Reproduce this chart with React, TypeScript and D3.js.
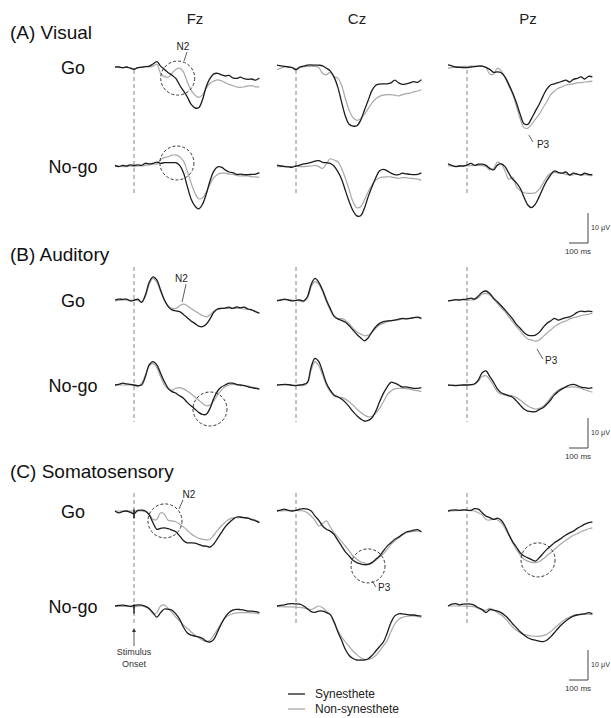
import React from "react";
import * as d3 from "d3";

// time grid of the ERP epochs (ms)
const times = d3.range(-100, 661, 20);
const electrodes = ["Fz", "Cz", "Pz"];
const conditions = ["Go", "No-go"];
const sectionTitles = ["(A) Visual", "(B) Auditory", "(C) Somatosensory"];
const groups = ["Synesthete", "Non-synesthete"];

// amplitudes in µV (positive plotted downward), one value per 20 ms
// (A) Visual
const visFzGoSyn = [0,0,0.2,0,0.4,0.8,0.2,0.1,-0.1,-0.3,-1.0,-1.8,-0.3,0.8,1.9,2.7,3.8,6,7.9,9.9,12.4,13.6,13.6,11,6.6,3.8,2.3,2.1,2.6,3,2.8,3.6,3.8,3.4,3.9,4.1,4,4.4,3.7];
const visFzGoNon = [0,0,0.3,0,0.3,0.5,0.3,0,-0.2,0,-0.3,-0.9,2.1,3.2,3.4,2.1,0.8,0.4,1.6,4.9,7.7,9.3,10.1,9.3,7.1,5.4,4.7,4.3,4.6,5.2,5.8,6.2,6.6,6.8,6.6,6.3,6.2,6.6,6.6];
const visFzNogoSyn = [-0.2,0.2,-0.2,0,-0.4,-0.2,-0.4,-0.2,-0.9,-0.7,-0.9,-1.3,-0.9,-1.1,-1.1,-1.1,-1.1,-0.2,2.2,6.7,10.9,13.3,14.3,12.8,9.4,5,1.7,0.3,0.4,1.3,2,2.2,2.8,2.7,2.9,2.9,2.8,2.7,2.2];
const visFzNogoNon = [0.2,0,0.2,0.2,0,0.2,0,0,-0.2,-0.4,-0.6,-0.7,-2.2,-2.8,-3.1,-3.6,-3.6,-3.1,-1.7,1.7,5.6,8.9,10.9,10.7,8.7,6.1,3.9,2.8,2.4,2.4,2.7,2.8,3.1,3.3,3.3,3.3,3.6,3.6,3.8];
const visCzGoSyn = [-0.6,-0.4,-0.2,0,0.2,0.9,0,-0.3,-0.6,-0.7,-0.6,-0.6,-0.4,0.4,1.3,3.3,6.7,11.7,16.4,19.1,19.7,19.6,17.8,14.4,11.1,7.8,6.1,5.7,5.6,5.6,5.3,4.4,5.3,5.8,5.6,5.3,4.9,5.1,4.2];
const visCzGoNon = [0.9,0.4,0,0,0.2,0.6,0.2,0,-0.2,-0.2,-0.2,0.2,2.2,2.6,1.8,3.3,3.7,6.1,10.6,14.4,16.9,17.8,17.2,15.8,13.9,12,10.6,9.8,9.4,9.2,9.2,9.4,9.6,9.2,8.9,8.7,8.3,8,7.6];
const visCzNogoSyn = [-0.3,0,0.2,0.3,0.4,0,-0.3,-0.7,-0.9,-1.2,-1.6,-1.8,-1.2,-1.1,-0.9,0,1.9,4.4,8.2,11.9,14.9,16.6,16.6,14.1,10.2,6.9,3.9,1.6,1.1,1.6,2.4,2.9,2.9,2.4,2.6,2.8,2.9,2.8,2.3];
const visCzNogoNon = [0.2,0.2,0.1,0.2,0.2,0,0.2,0.2,0.1,0,-0.2,0.2,0.8,-0.7,-2.4,-2,-1.4,0.8,4.1,8,11.9,13.9,13.6,11.3,8.6,6.3,4.7,3.9,3.7,3.6,3.6,3.9,4.1,3.9,3.9,4.1,4.2,4.4,4.8];
const visPzGoSyn = [-0.7,-0.4,0,0.1,0.2,0.2,0,-0.1,-0.3,-0.3,0.1,0.8,1.8,1.6,1.9,3.3,5.8,8.6,11.9,15.8,18.9,19.1,17.1,14.7,12.4,9.7,7.4,6,5.6,5.2,4.8,4.4,5,4.1,3.8,3.3,4,3.1,3.3];
const visPzGoNon = [0.4,0.2,0,-0.1,-0.2,-0.2,-0.3,-0.3,-0.3,-0.2,0.2,2.4,2.4,0.4,1.3,3.6,6.3,9.1,13,17.3,20.2,20.4,19.1,17.4,15.8,13.6,11.6,9.3,8,7.1,6.6,6,5.8,5.6,5.3,5.2,5,4.9,4.7];
const visPzNogoSyn = [-0.7,-0.2,0.2,0,0,-0.3,-0.9,-0.2,-0.6,-0.6,-0.2,0.8,1.3,-0.3,-0.7,0.2,2.4,4.4,5.6,7.4,10.4,13,13.9,12.7,10.2,7.4,4.9,3,1.6,2.1,2.4,2,3,2.4,2.7,3,2.4,2.8,2.9];
const visPzNogoNon = [0,0,0,-0.1,0,-0.1,-0.1,-0.2,-0.2,-0.1,0.2,1.3,0.8,-1.3,-0.7,1.6,4.4,3.8,6.9,8.2,8.9,9.1,9.1,8.9,7.8,5.8,3.6,2.4,2.2,2.3,2.4,2.8,2.9,3,2.7,3,2.9,3.1,3.2];

// (B) Auditory
const audFzGoSyn = [0,-0.3,-0.2,-0.3,0.3,0.1,-0.3,0.8,-1.7,-5.9,-7.7,-6.7,-3.3,0,2.2,3.3,3.6,3.9,4.8,5.9,7,7.8,8.7,8.9,8.1,6.3,4.1,3,2.8,2.7,2.4,2.8,2.3,2.6,2.4,3,3.3,3.9,4.4];
const audFzGoNon = [0.3,0.1,0,0,0.1,0,0.1,0.6,-1.1,-5.2,-7.2,-5.9,-2.8,0,1.9,2.8,2.8,1.9,1.4,1.9,2.8,3.7,4.4,5.2,5.6,5,3.7,3,2.8,2.8,2.8,2.8,2.8,2.8,3,3.1,3.4,3.9,4.4];
const audFzNogoSyn = [0,-0.2,-0.6,-0.4,-0.2,0,0.2,0,-2.8,-6.7,-7.8,-6.7,-3.9,-1.1,1.1,2.2,2.7,3.6,4.4,5.8,6.9,8,9.1,9.8,9.8,7.8,4.4,2,0.7,0,-0.6,-0.6,-0.2,0,0.2,0.6,0.9,1.1,1.4];
const audFzNogoNon = [0.2,0,0,0,0,0.2,0.6,-0.6,-3.3,-6.4,-7.1,-5.8,-2.8,0,1.3,1.7,1.1,0.9,1.3,2,2.9,3.9,5,6.1,6.9,6.7,5.3,3.3,1.7,0.6,0,-0.2,0,0.2,0.2,0.3,0.7,0.9,1.3];
const audCzGoSyn = [0.3,0,-0.3,0,0.3,0.1,0,0.3,-1.1,-5.2,-7.2,-5.9,-3.3,0,2.8,5.3,6.3,6.8,7.4,8.6,10,11.4,12.6,13.6,12.6,10.6,8.9,7.8,7.2,7,6.9,6.7,6.4,6.1,6.3,6.1,5.9,5.7,6.1];
const audCzGoNon = [0,0,0,0,0,0.2,0.3,0.6,-0.6,-4.4,-6.1,-5.2,-2.8,0.6,3.3,5.6,6.3,6.1,6.8,7.9,9.4,10.6,11.3,11.9,11.7,10.8,9.4,8.3,7.8,7.2,7,6.7,6.6,6.3,6.1,6.1,5.9,5.9,6.3];
const audCzNogoSyn = [0,-0.1,-0.2,-0.1,0.1,0.2,0,-0.2,-0.9,-6.1,-8.9,-7.8,-4.4,-0.6,1.7,3.3,3.9,4.7,5.8,7.2,8.9,10.2,11.3,12,11.8,10.9,8.7,5.6,2.8,0.6,-0.9,-0.6,0,0.7,0.6,0.9,1.1,1.1,0.9];
const audCzNogoNon = [0,0,0,0,0,0.1,0.2,0.2,-0.6,-5,-7.8,-6.4,-3.3,0,2.2,3.7,4.1,4.2,4.7,5.6,6.7,8,9.1,10,10.6,10.4,9.4,7.8,5.6,3.3,2,1.3,1.1,1.1,1.2,1.4,1.7,1.9,2.2];
const audPzGoSyn = [0.3,0.1,-0.1,0,-0.2,-0.3,-0.6,-0.3,-1.3,-2.6,-3,-2.2,-0.6,0.6,1.9,3.3,4.8,6.3,8.1,9.4,10.8,11.7,11.9,11.7,10.8,9.2,7.8,7,6.1,6.7,6.3,5.9,5.6,5,4.1,3.7,3.9,3.7,3.9];
const audPzGoNon = [0.3,0.1,0,0,0,0.1,0,-0.1,-0.8,-1.9,-2.2,-1.7,-0.3,1.1,2.6,3.9,5.6,7.2,8.9,10.3,11.9,13,13.3,13.7,13.3,12.2,11.1,10,8.9,8.1,7.4,7,6.3,5.9,5.6,5.2,5,4.7,4.4];
const audPzNogoSyn = [0,0.1,0.2,0.1,0,0,-0.1,-0.4,-1.7,-4.1,-4.7,-2.8,-0.9,1.3,2.6,3.1,3.6,4.1,5.3,6.7,8,8.7,8.9,8.9,8.2,7.6,6.4,5,3.3,2.2,1.3,0.6,0,-0.2,0.2,0.7,0.9,1.1,0.9];
const audPzNogoNon = [0.2,0.1,0,0,0,0,0,-0.2,-1.3,-2.8,-3.1,-1.7,0.2,2.2,3.1,3.3,3.4,3.6,4.2,5,6.1,7,7.6,8,7.8,7.2,5.8,4.2,2.8,1.7,1.1,0.7,0.7,0.6,0.8,1.1,1.6,2,2.4];

// (C) Somatosensory
const somFzGoSyn = [0,0.6,0.2,0,0.4,0.9,-0.2,-0.3,0,1.3,3.9,6.1,5.8,5.6,5.9,6.4,6.9,8.3,9.8,10.6,10.6,10.7,11.1,11.6,11.7,12,11,9.1,7.2,5.3,3.9,2.8,2,2,2.2,2.4,2.9,3.3,3.9];
const somFzGoNon = [0,0,0,0,0,0,0,0,0.2,1.1,2.8,2.8,0.6,1.1,3.1,3.3,3.6,4.4,5.3,6.4,7.6,8.4,9.1,9.4,9.6,9.4,8,6.4,5,3.7,2.8,2.3,2.2,2.2,2.3,2.4,2.7,3,3.6];
const somFzNogoSyn = [0,-0.2,-0.3,-0.1,0.1,-0.2,-0.4,-0.3,0.1,0.8,2.2,3.7,2.2,1,1.1,1.4,2.6,4.4,7,8.9,9.7,10,10.3,10.8,11.7,12,11.1,8.6,5.9,3.7,2.2,1.4,1.1,1.2,1.4,1.7,1.7,1.9,2.2];
const somFzNogoNon = [0.1,0.1,0.1,0.1,0.2,0.3,0.1,0,0.3,1.1,2.6,2.2,0,-0.3,0.8,2.2,3.7,5,6.3,7.4,8.6,9.7,10.6,11.4,11.9,11.4,9.7,7.8,5.6,3.9,3,2.6,2.3,2.2,2.2,2.2,2.3,2.4,2.6];
const somCzGoSyn = [0,-0.3,-0.6,-0.2,0,-0.2,-0.6,-0.8,-0.6,0,1.7,3.1,5,6.1,6.7,7.8,9.8,11.7,13.6,15,16.4,17.2,17.6,17.9,17.8,17.2,16.1,15,13.3,11.7,10.6,9.4,8.7,7.8,7,6.7,6.4,6.2,6.9];
const somCzGoNon = [0,0,-0.1,-0.1,-0.2,-0.2,-0.1,0,0.6,1.7,3.1,5,4.2,3.3,5.3,7.2,8.7,10.2,11.7,13.3,15,16.1,16.9,17.3,17.6,17.2,16.4,15.3,14.2,12.8,11.1,10,8.9,8,7.3,7,6.8,6.7,7];
const somCzNogoSyn = [0,-0.2,-0.4,-0.7,-0.8,-0.7,-0.6,0,0.9,1.9,2.1,1.7,1.7,2.2,2.8,5.2,8.6,11.4,14.5,16.5,17.5,18,18,18,17.6,16.5,15,13.5,12,9,5.5,3.3,2.6,2.6,2.8,3,3,3.2,3.4];
const somCzNogoNon = [0.2,0.2,0.3,0.3,0.3,0.4,0.5,0.6,0.9,1.2,0.6,0,0.6,1.7,3,5.6,8.1,10.3,12,13.5,15,16.2,17.2,17.8,17.8,17.4,16.5,15,13.2,11.5,8.5,6,4.5,3.8,3.5,3.3,3.3,3.5,3.8];
const somPzGoSyn = [0,-0.3,-0.4,-0.2,-0.4,-0.3,-0.2,-0.8,-0.6,0.6,1.7,2.2,2.8,2.4,3.1,5,7.8,10.2,12,13.9,15,15.6,16.2,16.7,15.6,14.2,12.8,11.7,10.6,9.8,8.9,8,7.3,6.7,5.8,5.1,4.4,3.9,3.6];
const somPzGoNon = [0,0,-0.1,-0.2,-0.2,-0.2,-0.1,0,0.6,1.3,2.8,3,2.6,2.9,3.9,5.8,8,10.6,12.8,14.7,16.1,16.7,17.1,17.2,16.9,16,15,13.9,12.8,11.7,10.7,9.8,8.9,8.1,7.6,6.9,6.4,5.9,5.6];
const somPzNogoSyn = [0,-0.6,-0.8,-0.4,-0.6,-0.7,-0.6,-0.2,0.6,1.2,2.2,1.2,1.4,1.7,2.2,3.2,4.4,5.9,7.2,8.6,9.7,10.6,11.1,11.4,11.7,11.9,11.4,10.3,8.9,7.4,6.1,5,4.1,3.4,3,2.8,2.6,2.2,2.6];
const somPzNogoNon = [0,0,0,0,0,0.1,0.1,0.3,0.8,1.3,1.4,0.8,1.4,2.2,3,4.1,5.6,7,8.1,8.9,9.4,9.8,10,10.1,10.1,9.9,9.4,8.6,7.4,6.3,5.2,4.3,3.7,3.1,2.8,2.7,2.7,2.8,2.9];

// [section][condition][electrode] -> [synesthete, non-synesthete]
const panels = [
  [
    [[visFzGoSyn, visFzGoNon], [visCzGoSyn, visCzGoNon], [visPzGoSyn, visPzGoNon]],
    [[visFzNogoSyn, visFzNogoNon], [visCzNogoSyn, visCzNogoNon], [visPzNogoSyn, visPzNogoNon]],
  ],
  [
    [[audFzGoSyn, audFzGoNon], [audCzGoSyn, audCzGoNon], [audPzGoSyn, audPzGoNon]],
    [[audFzNogoSyn, audFzNogoNon], [audCzNogoSyn, audCzNogoNon], [audPzNogoSyn, audPzNogoNon]],
  ],
  [
    [[somFzGoSyn, somFzGoNon], [somCzGoSyn, somCzGoNon], [somPzGoSyn, somPzGoNon]],
    [[somFzNogoSyn, somFzNogoNon], [somCzNogoSyn, somCzNogoNon], [somPzNogoSyn, somPzNogoNon]],
  ],
];

// dashed circles and peak labels, in (ms, µV) of their panel
const circles = [
  { s: 0, r: 0, c: 0, t: 230, v: 3.7 },
  { s: 0, r: 1, c: 0, t: 226, v: -1 },
  { s: 1, r: 1, c: 0, t: 400, v: 8 },
  { s: 2, r: 0, c: 0, t: 163, v: 3.3 },
  { s: 2, r: 0, c: 1, t: 379, v: 18.3 },
  { s: 2, r: 0, c: 2, t: 374, v: 16.3 },
];
const peakLabels = [
  { text: "N2", s: 0, r: 0, c: 0, t: 258, v: -5.7, anchor: "middle", from: [279, -5], to: [263, -2] },
  { text: "P3", s: 0, r: 0, c: 2, t: 368, v: 27, anchor: "start", from: [326, 22.7], to: [347, 25] },
  { text: "N2", s: 1, r: 0, c: 0, t: 250, v: -6, anchor: "middle", from: [274, -5.3], to: [253, 0.7] },
  { text: "P3", s: 1, r: 0, c: 2, t: 411, v: 21.3, anchor: "start", from: [368, 16.3], to: [400, 19.7] },
  { text: "N2", s: 2, r: 0, c: 0, t: 289, v: -4.3, anchor: "middle", from: [258, -3.7], to: [237, -0.7] },
  { text: "P3", s: 2, r: 0, c: 1, t: 432, v: 26.7, anchor: "start", from: [400, 23.3], to: [421, 25.3] },
];

const FONT = "'Liberation Sans', Arial, Helvetica, sans-serif";
const colX = [115, 277, 448];
const rowY = [[67, 166], [300, 385], [511, 606]];
const dashY = [[70, 195], [267, 422], [493, 625]];
const titleY = [39, 261, 478];
const barTop = [213, 418, 650];
const barX = 588;

const x = d3.scaleLinear().domain([-100, 660]).range([0, 144.4]);
const y = d3.scaleLinear().domain([0, 10]).range([0, 30]);

export default function App() {
  const line = d3
    .line<number>()
    .x((d, i) => x(times[i]))
    .y((d) => y(d))
    .curve(d3.curveCatmullRom.alpha(0.5));

  const px = (c: number, t: number) => colX[c] + x(t);
  const py = (s: number, r: number, v: number) => rowY[s][r] + y(v);

  return (
    <svg
      width={611}
      height={718}
      style={{ position: "absolute", left: 0, top: 0, background: "#fff" }}
      fontFamily={FONT}
    >
      <rect width={611} height={718} fill="#fff" />

      {electrodes.map((e, c) => (
        <text key={e} x={colX[c] + 80} y={24} fontSize={15} textAnchor="middle" fill="#222">
          {e}
        </text>
      ))}

      {sectionTitles.map((title, s) => (
        <g key={title}>
          <text x={10} y={titleY[s]} fontSize={19} fill="#111">
            {title}
          </text>
          {conditions.map((cond, r) => (
            <text key={cond} x={73} y={rowY[s][r] + 7} fontSize={18} textAnchor="middle" fill="#111">
              {cond}
            </text>
          ))}
          {electrodes.map((e, c) => (
            <line
              key={"d" + e}
              x1={px(c, 0)}
              x2={px(c, 0)}
              y1={dashY[s][0]}
              y2={dashY[s][1]}
              stroke="#777"
              strokeWidth={0.9}
              strokeDasharray="4,3"
            />
          ))}
          {panels[s].map((row, r) =>
            row.map((pair, c) => (
              <g key={`${r}-${c}`} transform={`translate(${colX[c]},${rowY[s][r]})`}>
                <path d={line(pair[1]) || ""} fill="none" stroke="#a8a8a8" strokeWidth={1.2} />
                <path d={line(pair[0]) || ""} fill="none" stroke="#1c1c1c" strokeWidth={1.3} />
              </g>
            ))
          )}
          {/* scale bar */}
          <g>
            <line x1={barX} x2={barX} y1={barTop[s]} y2={barTop[s] + y(10)} stroke="#444" strokeWidth={1} />
            <line
              x1={barX - (x(0) - x(-100))}
              x2={barX}
              y1={barTop[s] + y(10)}
              y2={barTop[s] + y(10)}
              stroke="#444"
              strokeWidth={1}
            />
            <text x={barX + 3} y={barTop[s] + 17} fontSize={7.2} fill="#333">
              10 μV
            </text>
            <text x={barX - 10} y={barTop[s] + y(10) + 11} fontSize={8} textAnchor="middle" fill="#333">
              100 ms
            </text>
          </g>
        </g>
      ))}

      {/* stimulus markers on the Fz somatosensory traces */}
      {[0, 1].map((r) => (
        <line
          key={"tick" + r}
          x1={px(0, 0)}
          x2={px(0, 0)}
          y1={py(2, r, -0.5)}
          y2={py(2, r, 2.5)}
          stroke="#111"
          strokeWidth={1.4}
        />
      ))}

      {circles.map((cc, i) => (
        <circle
          key={"c" + i}
          cx={px(cc.c, cc.t)}
          cy={py(cc.s, cc.r, cc.v)}
          r={17}
          fill="none"
          stroke="#333"
          strokeWidth={1}
          strokeDasharray="3,2"
        />
      ))}

      {peakLabels.map((p, i) => (
        <g key={"p" + i}>
          <line
            x1={px(p.c, p.from[0])}
            y1={py(p.s, p.r, p.from[1])}
            x2={px(p.c, p.to[0])}
            y2={py(p.s, p.r, p.to[1])}
            stroke="#333"
            strokeWidth={0.8}
          />
          <text
            x={px(p.c, p.t)}
            y={py(p.s, p.r, p.v)}
            fontSize={10}
            textAnchor={p.anchor as any}
            fill="#222"
          >
            {p.text}
          </text>
        </g>
      ))}

      {/* stimulus onset arrow */}
      <defs>
        <marker id="arr" viewBox="0 0 6 6" refX="3" refY="3" markerWidth="5" markerHeight="5" orient="auto">
          <path d="M0,0 L6,3 L0,6 z" fill="#333" />
        </marker>
      </defs>
      <line x1={px(0, 0)} x2={px(0, 0)} y1={646} y2={630} stroke="#333" strokeWidth={0.8} markerEnd="url(#arr)" />
      <text x={px(0, 0)} y={655} fontSize={9} textAnchor="middle" fill="#333">
        Stimulus
      </text>
      <text x={px(0, 0)} y={667} fontSize={9} textAnchor="middle" fill="#333">
        Onset
      </text>

      {/* legend */}
      {groups.map((g, i) => (
        <g key={g}>
          <line
            x1={288}
            x2={305}
            y1={694 + i * 15}
            y2={694 + i * 15}
            stroke={i === 0 ? "#1c1c1c" : "#a8a8a8"}
            strokeWidth={1.3}
          />
          <text x={315} y={698 + i * 15} fontSize={12} fill="#222">
            {g}
          </text>
        </g>
      ))}
    </svg>
  );
}
